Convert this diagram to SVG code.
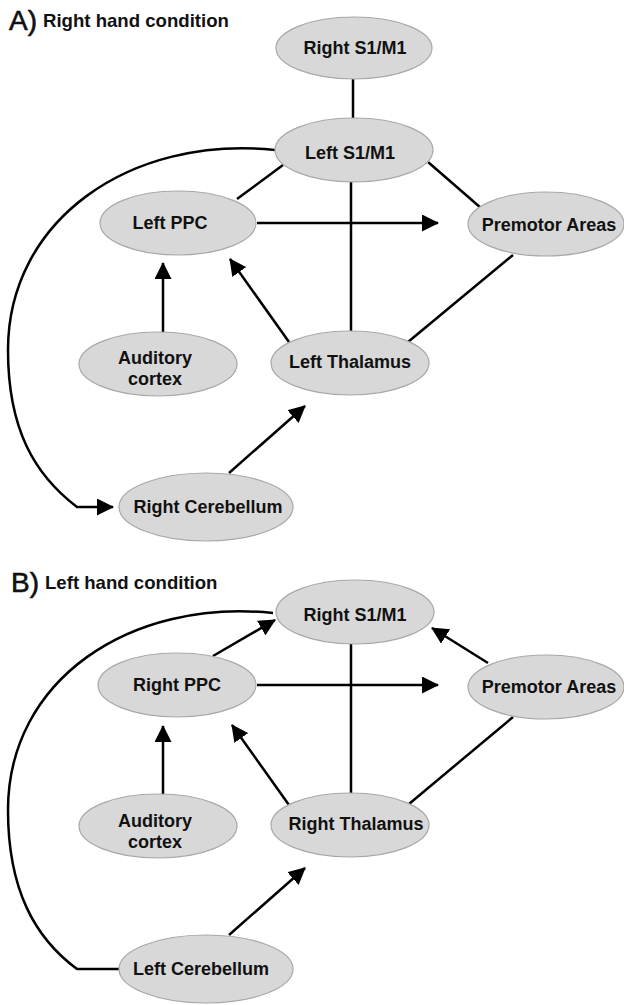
<svg xmlns="http://www.w3.org/2000/svg" width="624" height="1005" viewBox="0 0 624 1005">
  <style>
    .node { fill: #d8d8d8; stroke: #a8a8a8; stroke-width: 1.2; }
    .lbl { font-family: "Liberation Sans", Arial, sans-serif; font-weight: bold; font-size: 18px; fill: #111; text-anchor: middle; }
    .ttl { font-family: "Liberation Sans", Arial, sans-serif; font-weight: bold; font-size: 18.6px; fill: #111; }
    .letter { font-family: "Liberation Sans", Arial, sans-serif; font-size: 28px; fill: #111; stroke: #111; stroke-width: 0.6; }
    .edge { fill: none; stroke: #000; stroke-width: 2.5; }
    .arr { marker-end: url(#head); }
  </style>
  <defs>
    <marker id="head" markerUnits="userSpaceOnUse" markerWidth="17" markerHeight="17" refX="16" refY="8.5" orient="auto">
      <path d="M0,0 L17,8.5 L0,17 z" fill="#000"/>
    </marker>
  </defs>
  <rect width="624" height="1005" fill="#fff"/>

  <!-- Panel A titles -->
  <text class="letter" x="9" y="30">A)</text>
  <text class="ttl" x="43" y="27">Right hand condition</text>

  <!-- Panel A connectors -->
  <g id="edges-a">
    <line class="edge" x1="353" y1="79" x2="353" y2="118"/>
    <line class="edge" x1="283" y1="165" x2="237" y2="199"/>
    <line class="edge" x1="428" y1="162" x2="481" y2="208"/>
    <line class="edge" x1="351" y1="182" x2="351" y2="332"/>
    <line class="edge" x1="513" y1="255" x2="408" y2="342"/>
    <line class="edge arr" x1="257" y1="223" x2="438" y2="223"/>
    <line class="edge arr" x1="163" y1="332" x2="163" y2="263"/>
    <line class="edge arr" x1="289" y1="342" x2="230" y2="259"/>
    <line class="edge arr" x1="229" y1="473" x2="305" y2="406"/>
    <path class="edge arr" d="M275,150 C130,135 8,220 8,350 C8,430 35,475 77,507 L113,507"/>
  </g>

  <!-- Panel A nodes -->
  <g id="a-right-s1m1">
    <ellipse class="node" cx="354" cy="48" rx="78" ry="31"/>
    <text class="lbl" x="355" y="54">Right S1/M1</text>
  </g>
  <g id="a-left-s1m1">
    <ellipse class="node" cx="354" cy="150" rx="79" ry="32"/>
    <text class="lbl" x="350" y="159">Left S1/M1</text>
  </g>
  <g id="a-left-ppc">
    <ellipse class="node" cx="178" cy="223" rx="78" ry="32"/>
    <text class="lbl" x="170" y="229">Left PPC</text>
  </g>
  <g id="a-premotor">
    <ellipse class="node" cx="546" cy="224" rx="78" ry="32"/>
    <text class="lbl" x="549" y="231">Premotor Areas</text>
  </g>
  <g id="a-auditory">
    <ellipse class="node" cx="158" cy="364" rx="79" ry="32"/>
    <text class="lbl" x="155" y="364">Auditory</text>
    <text class="lbl" x="155" y="385">cortex</text>
  </g>
  <g id="a-left-thalamus">
    <ellipse class="node" cx="350" cy="363" rx="79" ry="32"/>
    <text class="lbl" x="350" y="368">Left Thalamus</text>
  </g>
  <g id="a-right-cerebellum">
    <ellipse class="node" cx="206" cy="507" rx="87" ry="34"/>
    <text class="lbl" x="208" y="513">Right Cerebellum</text>
  </g>

  <!-- Panel B titles -->
  <text class="letter" x="11" y="592">B)</text>
  <text class="ttl" x="45" y="589">Left hand condition</text>

  <!-- Panel B connectors -->
  <g id="edges-b">
    <line class="edge" x1="351" y1="644" x2="351" y2="794"/>
    <line class="edge" x1="513" y1="717" x2="409" y2="804"/>
    <line class="edge arr" x1="213" y1="656" x2="275" y2="620"/>
    <line class="edge arr" x1="488" y1="663" x2="432" y2="628"/>
    <line class="edge arr" x1="257" y1="685" x2="438" y2="685"/>
    <line class="edge arr" x1="163" y1="794" x2="163" y2="726"/>
    <line class="edge arr" x1="289" y1="805" x2="232" y2="725"/>
    <line class="edge arr" x1="229" y1="935" x2="305" y2="868"/>
    <path class="edge" d="M273,613 C130,598 8,680 8,810 C8,890 35,938 77,969 L121,969"/>
  </g>

  <!-- Panel B nodes -->
  <g id="b-right-s1m1">
    <ellipse class="node" cx="355" cy="612" rx="79" ry="32"/>
    <text class="lbl" x="355" y="621">Right S1/M1</text>
  </g>
  <g id="b-right-ppc">
    <ellipse class="node" cx="177" cy="685" rx="79" ry="32"/>
    <text class="lbl" x="177" y="691">Right PPC</text>
  </g>
  <g id="b-premotor">
    <ellipse class="node" cx="546" cy="687" rx="78" ry="32"/>
    <text class="lbl" x="549" y="693">Premotor Areas</text>
  </g>
  <g id="b-auditory">
    <ellipse class="node" cx="158" cy="826" rx="79" ry="32"/>
    <text class="lbl" x="155" y="827">Auditory</text>
    <text class="lbl" x="155" y="848">cortex</text>
  </g>
  <g id="b-right-thalamus">
    <ellipse class="node" cx="350" cy="825" rx="79" ry="32"/>
    <text class="lbl" x="356" y="830">Right Thalamus</text>
  </g>
  <g id="b-left-cerebellum">
    <ellipse class="node" cx="206" cy="969" rx="87" ry="34"/>
    <text class="lbl" x="201" y="975">Left Cerebellum</text>
  </g>
</svg>
